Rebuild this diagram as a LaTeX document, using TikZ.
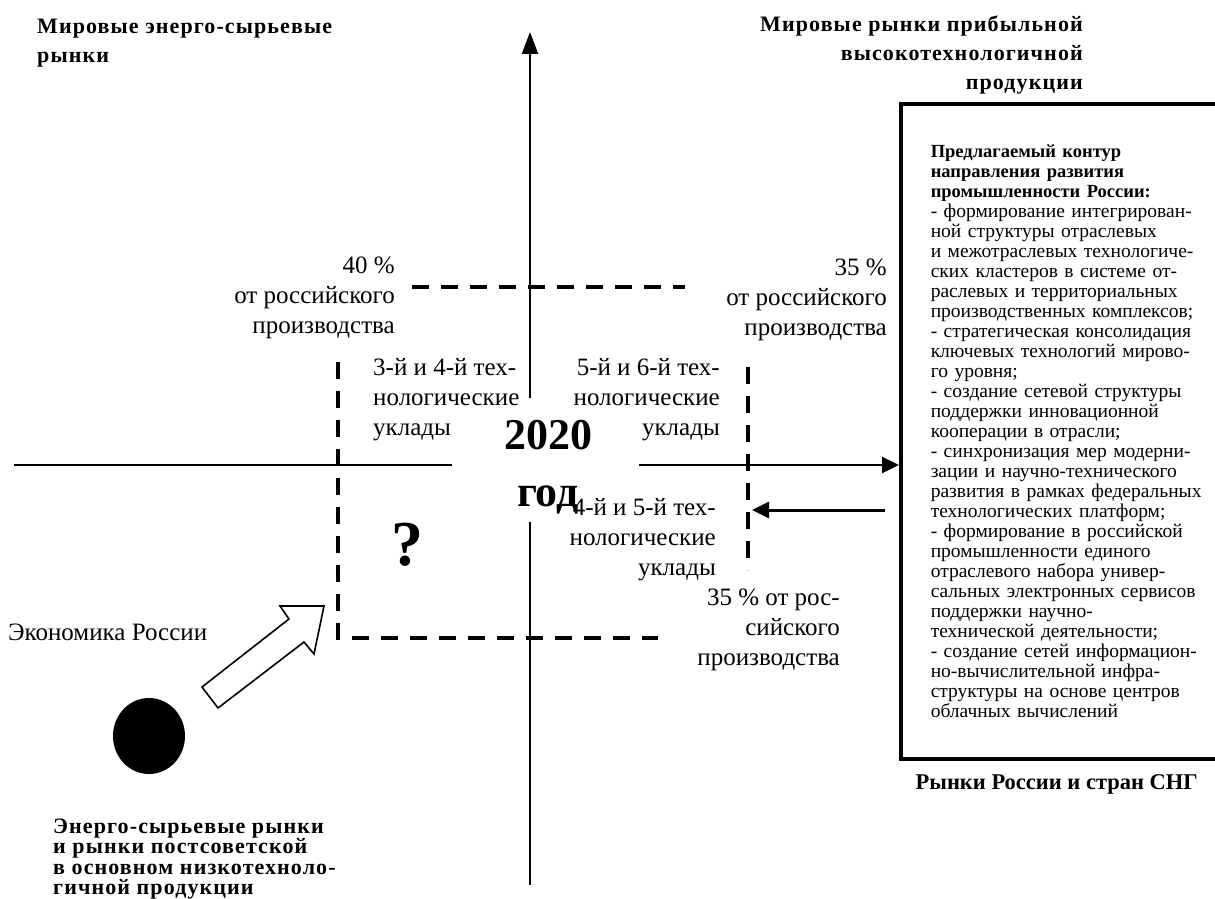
\documentclass[tikz,border=0pt]{standalone}
\usepackage{fontspec}
\setmainfont{Liberation Serif}
\newfontfamily\spacedserif[LetterSpace=5]{Liberation Serif}
\newcommand\planbf[1]{{\bfseries\fontsize{18.5}{20}\selectfont #1}}
\usetikzlibrary{arrows.meta, positioning, shapes.geometric}

\begin{document}
\begin{tikzpicture}[x=1pt, y=-1pt,
  lbl/.style      = {inner sep=0pt, font=\fontsize{25}{30}\selectfont},
  ttl/.style      = {inner sep=0pt, font=\spacedserif\bfseries\fontsize{22}{29}\selectfont},
  axisline/.style = {line width=2.2pt},
  dashline/.style = {line width=3.6pt, dash pattern=on 17pt off 12pt},
  bigtip/.style   = {-{Triangle[length=#1, width=16pt]}}
]

\useasboundingbox (0,0) rectangle (1215,899);

% titles in the corners
\node [ttl, anchor=west, align=left ] (tlw) at (37,43)   {Мировые энерго-сырьевые\\рынки};
\node [ttl, anchor=east, align=right] (tle) at (1083,55) {Мировые рынки прибыльной\\высокотехнологичной\\продукции};
\node [ttl, anchor=west, align=left, font=\spacedserif\bfseries\fontsize{22}{20.5}\selectfont] (blw) at (53,859) {Энерго-сырьевые рынки\\и рынки постсоветской\\в основном низкотехноло-\\гичной продукции};
\node [ttl, anchor=east, font=\bfseries\fontsize{22.5}{29}\selectfont] (bre) at (1198,784) {Рынки России и стран СНГ};

% the proposed plan
\node [draw, line width=3.5pt, anchor=north west, minimum height=655pt, inner xsep=30pt, text width=300pt, align=left,
       font=\fontsize{19.5}{20}\selectfont] (plan) at (899,102) {%
\planbf{Предлагаемый контур}\\
\planbf{направления развития}\\
\planbf{промышленности России:}\\
- формирование интегрирован-\\
ной структуры отраслевых\\
и межотраслевых технологиче-\\
ских кластеров в системе от-\\
раслевых и территориальных\\
производственных комплексов;\\
- стратегическая консолидация\\
ключевых технологий мирово-\\
го уровня;\\
- создание сетевой структуры\\
поддержки инновационной\\
кооперации в отрасли;\\
- синхронизация мер модерни-\\
зации и научно-технического\\
развития в рамках федеральных\\
технологических платформ;\\
- формирование в российской\\
промышленности единого\\
отраслевого набора универ-\\
сальных электронных сервисов\\
поддержки научно-\\
технической деятельности;\\
- создание сетей информацион-\\
но-вычислительной инфра-\\
структуры на основе центров\\
облачных вычислений};

% labels of the quadrants
\node [lbl, anchor=east, align=right] (share40) at (395,298) {40 \%\\от российского\\производства};
\node [lbl, anchor=east, align=right] (share35) at (887,300) {35 \%\\от российского\\производства};
\node [lbl, anchor=west, align=left ] (wave34)  at (373,400) {3-й и 4-й тех-\\нологические\\уклады};
\node [lbl, anchor=east, align=right] (wave56)  at (720,400) {5-й и 6-й тех-\\нологические\\уклады};
\node [lbl, anchor=east, align=right] (wave45)  at (716,540) {4-й и 5-й тех-\\нологические\\уклады};
\node [lbl, anchor=east, align=right] (share35b) at (840,630) {35 \% от рос-\\сийского\\производства};
\node [lbl, anchor=west             ] (econ)    at (8,632)   {Экономика России};

\node [inner sep=0pt, align=center, font=\bfseries\fontsize{44}{57}\selectfont] (year) at (548,467) {2020\\год};
\node [inner sep=0pt, font=\bfseries\fontsize{64}{64}\selectfont] (quest) at (407,545) {?};

\node [ellipse, fill, minimum width=72pt, minimum height=76pt, inner sep=0pt] (russia) at (149,736) {};

% axes
\coordinate (vtop)  at (530,32);
\coordinate (vmid)  at (530,398);
\coordinate (vlow)  at (530,522);
\coordinate (vbot)  at (530,885);
\coordinate (hleft) at (14,465);
\coordinate (hl)    at (452,465);
\coordinate (hr)    at (639,465);

\draw [axisline, bigtip=22pt] (vmid) -- (vtop);
\draw [axisline] (vlow) -- (vbot);
\draw [axisline] (hleft) -- (hl);
\draw [axisline, bigtip=17pt] (hr) -- (hr -| plan.west);

% dashed contour
\draw [dashline] (338,362) -- (338,638) -- (658,638);
\draw [dashline] (412,287) -- (685,287);
\draw [dashline] (748,367) -- (748,570);

\coordinate (back) at (885,510);
\draw [line width=3pt, bigtip=17pt] (back) -- (752,510);

% way of the economy
\draw [line width=1.6pt, fill=white] (324,606) -- (280,606) -- (289,619) -- (202,687) -- (218,708) -- (304,642) -- (314,654) -- cycle;

\end{tikzpicture}
\end{document}
